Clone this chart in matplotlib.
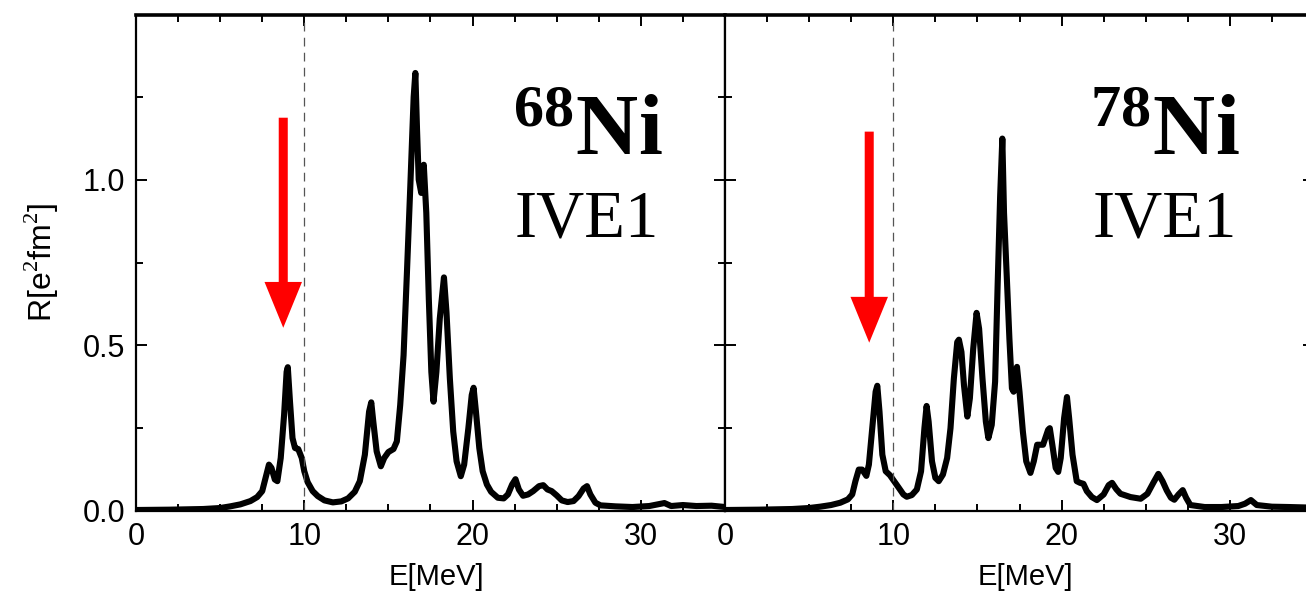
import matplotlib
matplotlib.use("Agg")
import matplotlib.pyplot as plt
from matplotlib.ticker import MultipleLocator
from matplotlib.patches import FancyArrowPatch

plt.rcParams['font.family'] = ['Liberation Sans', 'DejaVu Sans']
plt.rcParams['mathtext.fontset'] = 'custom'
plt.rcParams['mathtext.rm'] = 'Liberation Serif'
plt.rcParams['mathtext.bf'] = 'Liberation Serif:bold'

# 68Ni, IVE1 strength
e68 = [0, 2, 4, 5, 5.6, 6.2, 6.8, 7.2, 7.5, 7.7, 7.9, 8.05, 8.25, 8.4, 8.6, 8.8,
       8.95, 9.02, 9.15, 9.3, 9.45, 9.64, 9.85, 10.0, 10.2, 10.5, 10.8, 11.2,
       11.7, 12.2, 12.6, 13.0, 13.3, 13.6, 13.85, 13.98, 14.1, 14.3, 14.55,
       14.75, 15.0, 15.3, 15.5, 15.7, 15.9, 16.1, 16.3, 16.5, 16.6, 16.7, 16.8,
       16.95, 17.1, 17.25, 17.4, 17.55, 17.68, 17.85, 18.05, 18.3, 18.45, 18.65,
       18.85, 19.05, 19.3, 19.5, 19.75, 19.95, 20.06, 20.2, 20.4, 20.6, 20.85,
       21.1, 21.5, 21.85, 22.1, 22.35, 22.55, 22.75, 23.0, 23.3, 23.6, 23.95,
       24.2, 24.45, 24.7, 25.0, 25.3, 25.65, 26.0, 26.3, 26.6, 26.8, 27.0, 27.3,
       27.6, 28.5, 29.5, 30.5, 31.0, 31.4, 31.8, 32.5, 33.3, 34.2, 35.0]
r68 = [0.003, 0.004, 0.006, 0.009, 0.014, 0.02, 0.03, 0.042, 0.06, 0.1, 0.14,
       0.13, 0.095, 0.09, 0.16, 0.29, 0.42, 0.434, 0.33, 0.22, 0.19, 0.187,
       0.16, 0.12, 0.087, 0.06, 0.045, 0.032, 0.026, 0.029, 0.038, 0.058, 0.09,
       0.17, 0.3, 0.328, 0.27, 0.18, 0.135, 0.16, 0.178, 0.187, 0.21, 0.32,
       0.47, 0.72, 0.98, 1.25, 1.322, 1.15, 1.0, 0.96, 1.045, 0.9, 0.64, 0.42,
       0.33, 0.42, 0.58, 0.705, 0.6, 0.4, 0.24, 0.15, 0.105, 0.14, 0.25, 0.35,
       0.372, 0.3, 0.19, 0.12, 0.08, 0.058, 0.04, 0.038, 0.05, 0.08, 0.096,
       0.065, 0.046, 0.05, 0.06, 0.075, 0.078, 0.065, 0.06, 0.047, 0.032, 0.027,
       0.03, 0.045, 0.068, 0.075, 0.05, 0.025, 0.017, 0.014, 0.012, 0.015, 0.02,
       0.024, 0.015, 0.018, 0.015, 0.016, 0.012]

# 78Ni, IVE1 strength
e78 = [0, 2, 4, 5, 5.65, 6.3, 6.85, 7.3, 7.56, 7.75, 7.95, 8.15, 8.4, 8.55, 8.75,
       8.95, 9.05, 9.18, 9.35, 9.55, 9.8, 10.05, 10.3, 10.6, 10.8, 11.1, 11.4,
       11.65, 11.85, 11.98, 12.1, 12.3, 12.5, 12.7, 12.95, 13.2, 13.4, 13.6,
       13.8, 13.9, 14.05, 14.2, 14.4, 14.55, 14.75, 14.95, 15.1, 15.3, 15.5,
       15.65, 15.85, 16.05, 16.2, 16.35, 16.48, 16.58, 16.75, 16.9, 17.05,
       17.15, 17.35, 17.5, 17.7, 17.9, 18.15, 18.35, 18.55, 18.9, 19.2, 19.3,
       19.45, 19.65, 19.8, 19.95, 20.15, 20.32, 20.45, 20.65, 20.9, 21.1, 21.3,
       21.5, 21.8, 22.1, 22.5, 22.8, 23.0, 23.25, 23.5, 24.1, 24.7, 25.1, 25.45,
       25.75, 26.0, 26.25, 26.5, 26.7, 26.95, 27.2, 27.4, 27.65, 28.5, 29.5,
       30.5, 30.9, 31.25, 31.6, 32.5, 33.5, 35.0]
r78 = [0.003, 0.004, 0.006, 0.009, 0.013, 0.018, 0.025, 0.035, 0.05, 0.09,
       0.125, 0.125, 0.106, 0.14, 0.25, 0.36, 0.378, 0.3, 0.17, 0.12, 0.108,
       0.09, 0.072, 0.05, 0.043, 0.048, 0.065, 0.12, 0.25, 0.317, 0.27, 0.15,
       0.1, 0.09, 0.11, 0.16, 0.25, 0.4, 0.51, 0.517, 0.48, 0.38, 0.285, 0.34,
       0.49, 0.598, 0.55, 0.4, 0.27, 0.22, 0.26, 0.39, 0.68, 0.95, 1.124, 0.9,
       0.7, 0.52, 0.37, 0.36, 0.435, 0.36, 0.24, 0.15, 0.115, 0.15, 0.2, 0.2,
       0.245, 0.25, 0.2, 0.13, 0.118, 0.16, 0.28, 0.344, 0.28, 0.17, 0.09,
       0.085, 0.082, 0.06, 0.042, 0.033, 0.05, 0.078, 0.085, 0.066, 0.052,
       0.042, 0.037, 0.052, 0.085, 0.112, 0.09, 0.062, 0.04, 0.034, 0.05, 0.063,
       0.04, 0.018, 0.012, 0.012, 0.015, 0.022, 0.033, 0.018, 0.013, 0.012, 0.01]

panels = [
    dict(e=e68, r=r68, mass='68', arrow=(8.75, 1.187, 0.553), lab_x=31.3, ive_x=31.07),
    dict(e=e78, r=r78, mass='78', arrow=(8.57, 1.145, 0.508), lab_x=30.6, ive_x=30.4),
]

fig = plt.figure(figsize=(13.06, 5.97), dpi=100)
W, H = 1306, 597
x0s = [136, 725]
pw = 589

for i, p in enumerate(panels):
    ax = fig.add_axes([x0s[i] / W, (H - 511) / H, pw / W, (511 - 15) / H])
    ax.plot(p['e'], p['r'], color='k', lw=4.4, solid_joinstyle='round')
    ax.axvline(10, color='#555555', lw=0.9, ls=(0, (7, 5)))
    ax.set_xlim(0, 35)
    ax.set_ylim(0, 1.497)
    ax.xaxis.set_major_locator(MultipleLocator(10))
    ax.xaxis.set_minor_locator(MultipleLocator(2.5))
    ax.yaxis.set_major_locator(MultipleLocator(0.5))
    ax.yaxis.set_minor_locator(MultipleLocator(0.25))
    ax.tick_params(which='both', direction='in', top=True, right=True, width=1.4)
    ax.tick_params(which='major', length=8, labelsize=22, pad=8)
    ax.tick_params(which='minor', length=5)
    for s in ax.spines.values():
        s.set_linewidth(1.6)
    ax.spines['top'].set_linewidth(2.6)
    ax.set_xlabel('E[MeV]', fontsize=21)
    ax.xaxis.set_label_coords(0.51, -0.105)
    if i == 0:
        ax.yaxis.set_major_formatter(plt.FormatStrFormatter('%.1f'))
        ax.set_ylabel(r'R[e$^2$fm$^2$]', fontsize=23)
        ax.yaxis.set_label_coords(-0.128, 0.5)
    else:
        ax.tick_params(labelleft=False)

    xa, ytop, ytip = p['arrow']
    arr = FancyArrowPatch((xa, ytop), (xa, ytip),
                          arrowstyle='simple,head_length=3.3,head_width=2.7,tail_width=0.65',
                          mutation_scale=10, color='red', lw=0,
                          shrinkA=0, shrinkB=0)
    ax.add_patch(arr)

    ax.text(p['lab_x'], 1.075, r'$\mathbf{{}^{%s}Ni}$' % p['mass'], fontsize=62,
            ha='right', va='baseline')
    ax.text(p['ive_x'], 0.828, 'IVE1', fontsize=48, family='Liberation Serif',
            ha='right', va='baseline')

fig.savefig('out.png', dpi=100)
